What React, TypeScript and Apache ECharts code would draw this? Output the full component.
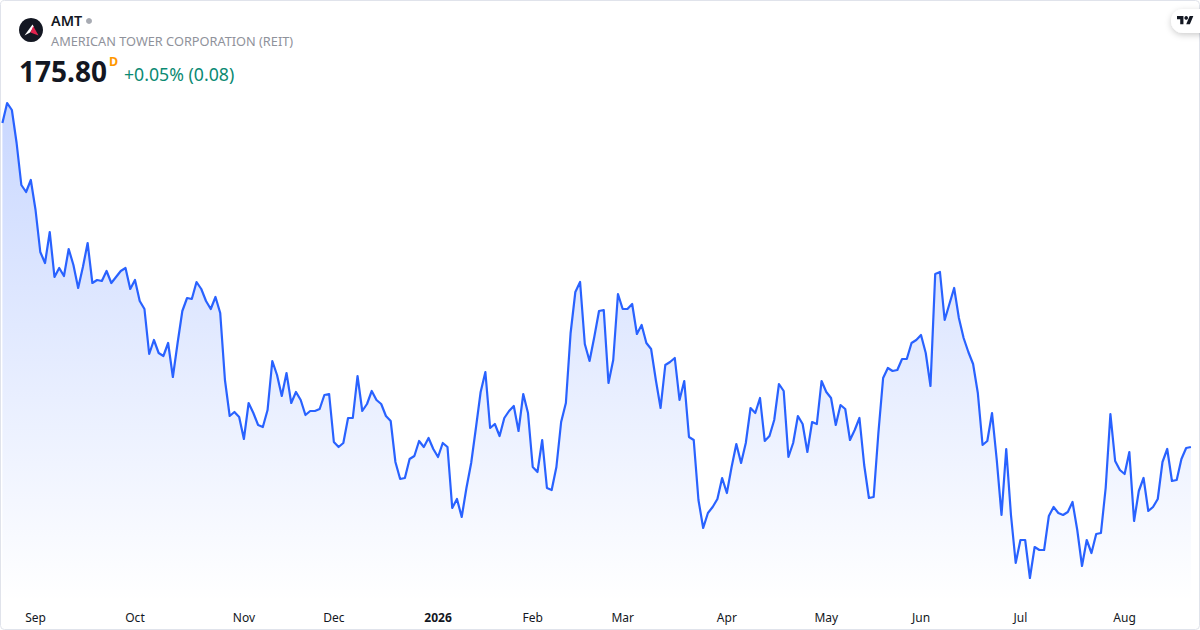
import React, { useEffect, useRef } from "react";
import * as echarts from "echarts";

const closes = [
  208.2,210.2,209.5,206.2,202,201.3,202.5,199.5,195.3,194.2,197.3,192.8,193.7,192.9,195.6,194,191.7,193.8,196.2,192.2,192.5,192.4,193.4,192.2,192.8,193.4,193.7,191.6,192.5,
  190.4,189.6,185.1,186.5,185.2,184.9,186.2,182.8,186.2,189.4,190.7,190.6,192.3,191.6,190.4,189.6,190.8,189.2,182.5,178.9,179.3,178.8,176.6,180.2,179.2,178,177.8,179.5,184.4,183,180.9,183.2,180.2,181.3,
  180.5,179,179.4,179.4,179.6,181,181.1,176.3,175.8,176.2,178.7,178.7,182.9,179.4,180.1,181.4,180.5,180.1,178.9,178.4,174.3,172.6,172.7,174.6,174.9,176.4,175.8,176.7,175.6,174.8,176.2,175.8,169.7,170.6,168.8,171.7,174.2,177.7,181.3,183.3,177.7,178.1,176.9,178.7,179.4,179.9,177.4,181.1,179.2,173.8,173.3,176.5,171.7,171.5,173.8,178.3,180.2,
  187.2,191.3,192.3,186.1,184.4,186.8,189.4,189.5,182.2,184.5,191.1,189.6,189.6,190.1,187.1,188,186.2,185.6,182.5,179.7,184,184.3,184.7,180.5,182.4,176.8,176.5,170.5,167.7,169.2,169.8,170.6,172.7,171.2,173.8,176.1,174.2,176.2,179.7,179.2,180.7,176.4,176.9,178.5,182.1,181.4,174.8,176.2,178.9,178.1,175.3,178.3,178.1,
  182.4,181.3,180.7,178,180,179.6,176.5,177.5,178.7,174,170.7,170.8,177.2,182.7,183.7,183.4,183.5,184.6,184.6,186.2,186.5,187,185.2,181.9,193.1,193.3,188.5,190.1,191.7,188.7,186.7,185.3,184.1,181.2,176,176.4,179.2,174.5,
  169,175.6,169,164.2,166.5,166.5,162.7,165.8,165.5,165.5,168.9,169.8,169.2,169,169.3,170.3,167.5,163.9,166.5,165.2,167.1,167.2,171.7,179.1,174.4,173.5,173.1,175.3,168.4,171.4,172.7,169.4,169.8,170.6,174.3,175.6,172.4,172.5,174.6,175.7,175.8,
];
const tickLabels = ["Sep", "Oct", "Nov", "Dec", "2026", "Feb", "Mar", "Apr", "May", "Jun", "Jul", "Aug"];
const tickIndexes = [7, 28, 51, 70, 92, 112, 131, 153, 174, 194, 215, 237];
const categories = closes.map((_, i) => {
  const k = tickIndexes.indexOf(i);
  return k >= 0 ? tickLabels[k] : "";
});

const FONT = '"Noto Sans", "Open Sans", sans-serif';
const tvLogo = "M14 22H7V11H0V4h14v18zM28 22h-8l7.5-18h8L28 22z";
echarts.graphic.registerShape("tvlogo", echarts.graphic.extendPath(tvLogo, {}));

export default function App() {
  const ref = useRef<HTMLDivElement>(null);
  useEffect(() => {
    document.body.style.margin = "0";
    document.body.style.background = "#fff";
    const chart = echarts.init(ref.current!, undefined, { renderer: "svg" });
    chart.setOption({
      animation: false,
      backgroundColor: "#ffffff",
      grid: { left: 2.4, right: 9.1, top: 0, height: 602 },
      xAxis: {
        type: "category",
        data: categories,
        boundaryGap: false,
        axisLine: { show: false },
        axisTick: { show: false },
        splitLine: { show: false },
        axisLabel: {
          interval: (_: number, v: string) => v !== "",
          margin: 9,
          color: "#131722",
          fontSize: 12,
          fontFamily: FONT,
          formatter: (v: string) => (v === "2026" ? `{b|${v}}` : v),
          rich: { b: { fontWeight: 700, fontSize: 12, color: "#131722", fontFamily: FONT } },
        },
      },
      yAxis: { type: "value", show: false, min: 160.3, max: 220.5, splitLine: { show: false } },
      series: [
        {
          type: "line",
          data: closes,
          showSymbol: false,
          symbol: "none",
          lineStyle: { color: "#2962FF", width: 2.2, join: "round" },
          itemStyle: { color: "#2962FF" },
          areaStyle: {
            color: new echarts.graphic.LinearGradient(0, 0, 0, 1, [
              { offset: 0, color: "rgba(41,98,255,0.36)" },
              { offset: 1, color: "rgba(41,98,255,0)" },
            ]),
          },
        },
      ],
      graphic: [
        { type: "rect", silent: true, shape: { x: 0.5, y: 0.5, width: 1199, height: 629, r: 4 }, style: { fill: "none", stroke: "#e0e3eb", lineWidth: 1 } },
        { type: "circle", shape: { cx: 31, cy: 30, r: 12 }, style: { fill: "#131722" } },
        { type: "polygon", shape: { points: [[24.5, 35.5], [32.5, 24.5], [34, 27], [30, 32.5]] }, style: { fill: "#ffffff" } },
        { type: "polygon", shape: { points: [[33.2, 26], [38.5, 35.5], [30.5, 32.5]] }, style: { fill: "#e0234e" } },
        { type: "text", x: 51, y: 20.5, style: { text: "AMT", fill: "#131722", font: `600 14.4px ${FONT}`, verticalAlign: "middle" } },
        { type: "circle", shape: { cx: 89, cy: 21, r: 3 }, style: { fill: "#a8abb3" } },
        { type: "text", x: 51, y: 40.5, style: { text: "AMERICAN TOWER CORPORATION (REIT)", fill: "#8f929b", font: `400 12.75px ${FONT}`, verticalAlign: "middle" } },
        { type: "text", x: 19, y: 71, style: { text: "175.80", fill: "#131722", font: `700 28px ${FONT}`, verticalAlign: "middle" } },
        { type: "text", x: 109, y: 61.5, style: { text: "D", fill: "#ff9800", font: `700 12.5px ${FONT}`, verticalAlign: "middle" } },
        { type: "text", x: 124, y: 74, style: { text: "+0.05% (0.08)", fill: "#0b8a73", font: `400 17.7px ${FONT}`, verticalAlign: "middle" } },
        { type: "rect", shape: { x: 1171, y: 9, width: 50, height: 24, r: 12 }, style: { fill: "#ffffff", shadowColor: "rgba(0,0,0,0.2)", shadowBlur: 6, shadowOffsetY: 2 } },
        { type: "tvlogo", x: 1177, y: 14.2, scaleX: 0.46, scaleY: 0.46, style: { fill: "#131722" } },
        { type: "circle", shape: { cx: 1186.2, cy: 17.9, r: 1.8 }, style: { fill: "#131722" } },
      ],
    });
    return () => chart.dispose();
  }, []);
  return <div ref={ref} style={{ width: 1200, height: 630 }} />;
}
